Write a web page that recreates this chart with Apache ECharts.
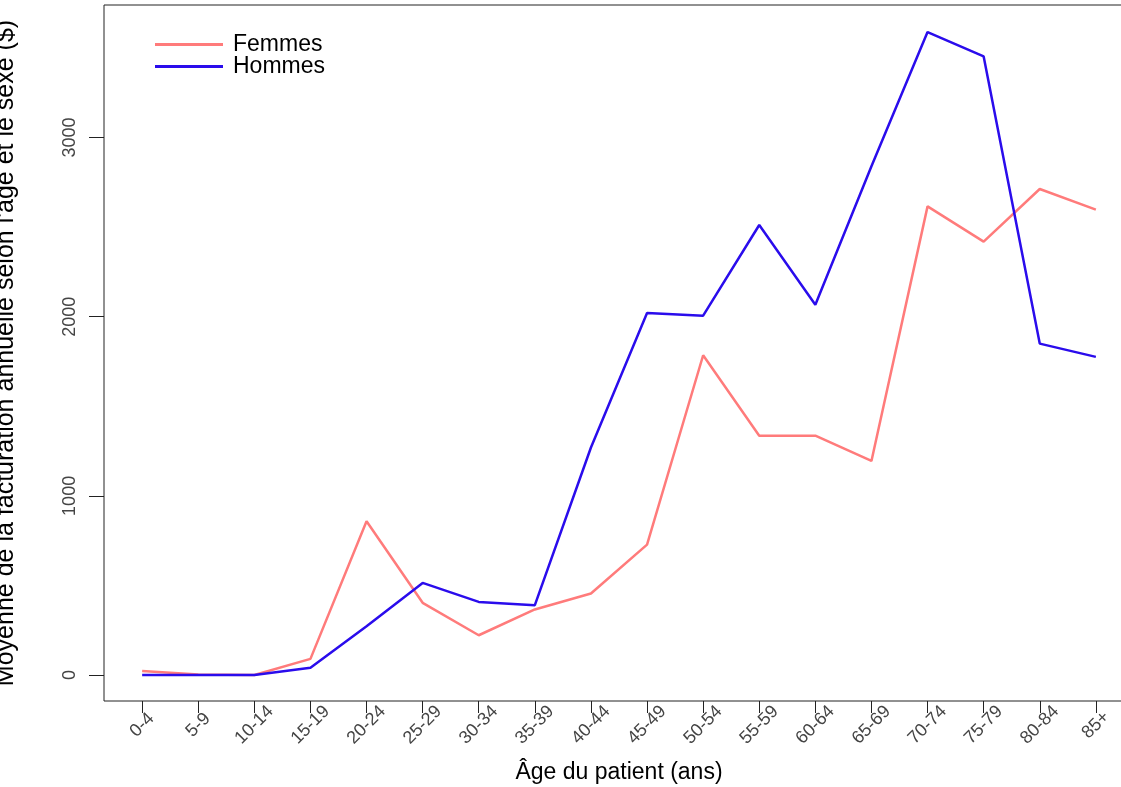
<!DOCTYPE html>
<html>
<head>
<meta charset="utf-8">
<script src="https://cdn.jsdelivr.net/npm/echarts@6/dist/echarts.min.js"></script>
<style>
html,body{margin:0;padding:0;background:#fff;}
#chart{width:1121px;height:787px;}
</style>
</head>
<body>
<div id="chart"></div>
<script>
const categories = ['0-4','5-9','10-14','15-19','20-24','25-29','30-34','35-39','40-44','45-49','50-54','55-59','60-64','65-69','70-74','75-79','80-84','85+'];
const femmes = [23, 3, 0, 90, 858, 403, 222, 366, 455, 728, 1785, 1336, 1336, 1195, 2616, 2419, 2713, 2598];
const hommes = [0, 0, 0, 40, 272, 514, 408, 390, 1270, 2021, 2006, 2512, 2067, 2840, 3589, 3453, 1850, 1776];
const yTicks = [0, 1000, 2000, 3000];

const FONT = 'Liberation Sans, Arial, Helvetica, sans-serif';
const chart = echarts.init(document.getElementById('chart'), null, {renderer: 'canvas'});
const idx = categories.map((c, i) => i);

chart.setOption({
  animation: false,
  backgroundColor: '#fff',
  textStyle: {fontFamily: FONT},
  grid: {
    left: 104, top: 5, width: 1030, height: 696,
    outerBoundsMode: 'none', containLabel: false,
    show: true, borderColor: '#222', borderWidth: 1, backgroundColor: 'transparent'
  },
  legend: {
    orient: 'vertical', left: 155, top: 33, itemGap: -1, padding: 0,
    itemWidth: 68, itemHeight: 3, icon: 'rect',
    textStyle: {fontSize: 23, color: '#000', fontFamily: FONT, padding: [0, 0, 0, 5]},
    data: ['Femmes', 'Hommes']
  },
  xAxis: {
    type: 'value', min: -0.68, max: 17.68,
    name: 'Âge du patient (ans)', nameLocation: 'middle', nameGap: 60,
    nameTextStyle: {fontSize: 23, color: '#000', fontFamily: FONT},
    axisLine: {show: false, onZero: false},
    splitLine: {show: false},
    axisTick: {show: true, length: 12, inside: false, customValues: idx, lineStyle: {color: '#222', width: 1}},
    axisLabel: {
      customValues: idx, rotate: 45, margin: 24, align: 'center', verticalAlign: 'middle',
      fontSize: 18, color: '#444', fontFamily: FONT,
      formatter: v => categories[Math.round(v)]
    }
  },
  yAxis: {
    type: 'value', min: -145, max: 3740,
    name: "Moyenne de la facturation annuelle selon l'âge et le sexe ($)",
    nameLocation: 'middle', nameRotate: 90, nameGap: 85,
    nameTextStyle: {fontSize: 25, color: '#000', fontFamily: FONT},
    axisLine: {show: false, onZero: false},
    splitLine: {show: false},
    axisTick: {show: true, length: 15, inside: false, customValues: yTicks, lineStyle: {color: '#222', width: 1}},
    axisLabel: {
      customValues: yTicks, rotate: 90, margin: 34, align: 'center', verticalAlign: 'middle',
      fontSize: 18, color: '#444', fontFamily: FONT,
      formatter: v => String(v)
    }
  },
  series: [
    {
      name: 'Femmes', type: 'line', symbol: 'none',
      lineStyle: {color: '#ff7b7b', width: 2.5}, itemStyle: {color: '#ff7b7b'},
      data: femmes.map((v, i) => [i, v])
    },
    {
      name: 'Hommes', type: 'line', symbol: 'none',
      lineStyle: {color: '#2a0cec', width: 2.5}, itemStyle: {color: '#2a0cec'},
      data: hommes.map((v, i) => [i, v])
    }
  ]
});
</script>
</body>
</html>
